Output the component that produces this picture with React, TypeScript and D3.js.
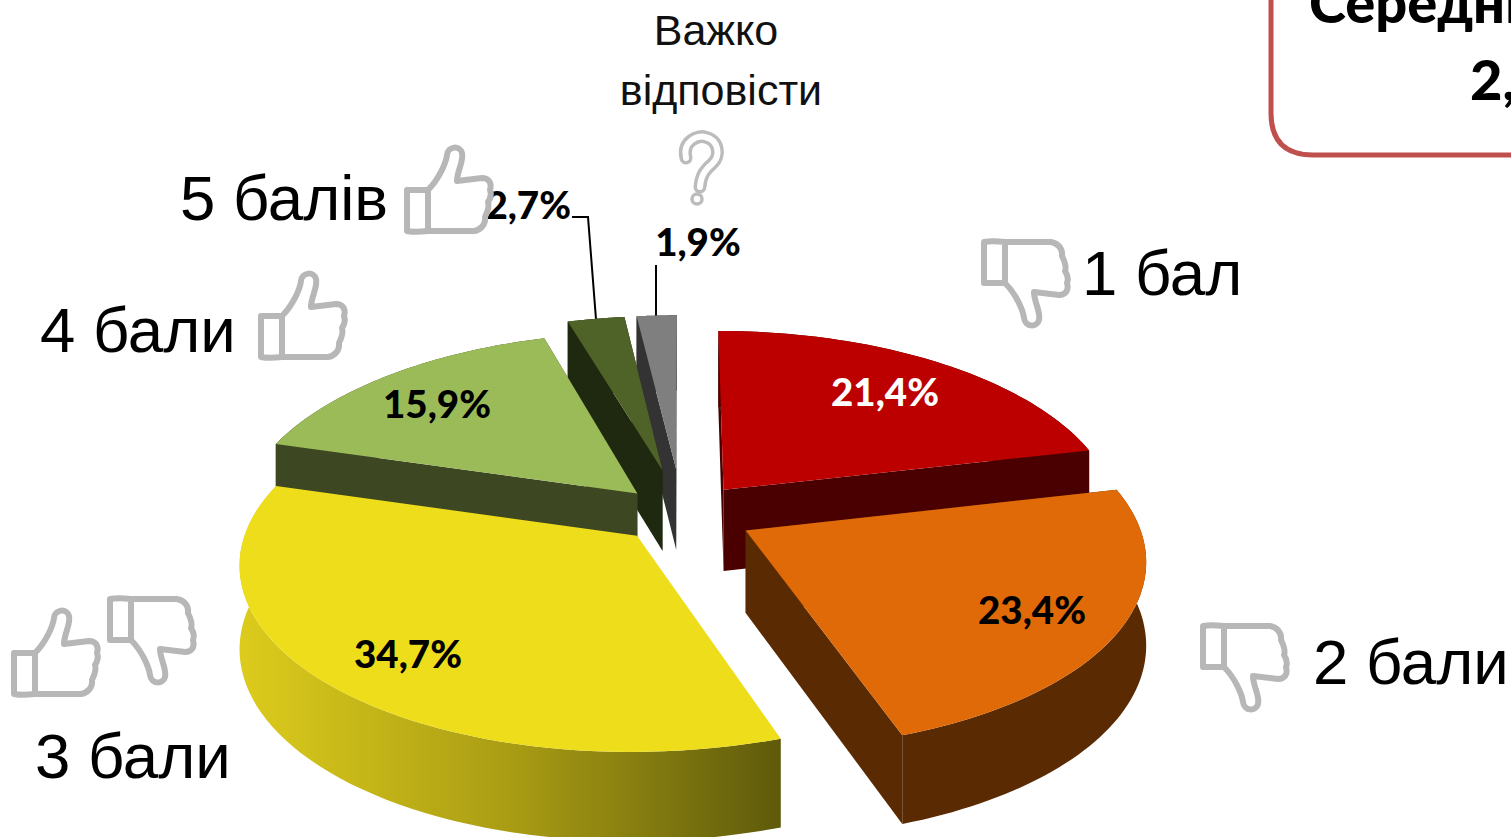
import React from "react";
import * as d3 from "d3";

const W = 1511, H = 837;
const categories = ["1 бал", "2 бали", "3 бали", "4 бали", "5 балів", "Важко відповісти"];
const values = [21.4, 23.4, 34.7, 15.9, 2.7, 1.9];
const percentLabels = ["21,4%", "23,4%", "34,7%", "15,9%", "2,7%", "1,9%"];

// layout + style
const explode = [0.17, 0.18, 0.16, 0.16, 0.25, 0.25];
const radXPos = [0.99, 0.975, 1, 1, 1, 1];
const radXNeg = [1, 1, 0.965, 1, 1, 1];
const radY = [1.02, 0.985, 0.97, 1.03, 1.02, 1.02];
const topColors = ["#bc0000", "#e16a08", "#eedd1a", "#9bbb59", "#4f6228", "#7f7f7f"];
const sideColors = ["#4a0000", "#5a2a03", "url(#rimY)", "#3d4722", "#1f2910", "#333333"];
const paintOrder = [5, 4, 3, 0, 1, 2];
const pctPos: [number, number, string, string][] = [
  [885, 405, "middle", "#ffffff"], [1032, 623, "middle", "#000"], [408, 667, "middle", "#000"],
  [437, 417, "middle", "#000"], [571, 218, "end", "#000"], [698, 255, "middle", "#000"],
];
const catPos: [number, number][] = [[1082, 295], [1313, 684], [35, 778], [40, 352], [180, 220]];

const Cx = 682, Cy = 514, Rx = 400, Ry = 185, k = 0.1435, depth = 82;
const sx = d3.scaleLinear().domain([-1, 1]).range([Cx - Rx, Cx + Rx]);
const sy = d3.scaleLinear().domain([-1, 1]).range([Cy - Ry, Cy + Ry]);
const project = (X: number, Y: number, z = 0): [number, number] => {
  const w = 1 - k * Y;
  return [sx(X / w), sy(Y / w) + (depth * z) / Math.sqrt(w)];
};
const line = d3.line<[number, number]>();
const arcs = d3.pie<number>().sort(null).startAngle(0).endAngle(2 * Math.PI)(values);

function sliceGeom(i: number) {
  const a = arcs.find((d) => d.index === i)!;
  const mid = (a.startAngle + a.endAngle) / 2;
  const ox = explode[i] * Math.sin(mid), oy = -explode[i] * Math.cos(mid);
  const rim = (t: number, z: number) => {
    const s = Math.sin(t);
    return project(ox + s * (s < 0 ? radXNeg[i] : radXPos[i]), oy - Math.cos(t) * radY[i], z);
  };
  const ts = d3.range(0, 61).map((j) => a.startAngle + ((a.endAngle - a.startAngle) * j) / 60);
  const pts = (z: number) => ts.map((t) => rim(t, z));
  const apex = (z: number) => project(ox, oy, z);
  const topP = pts(0), botP = pts(1);
  return {
    top: line([apex(0), ...topP])! + "Z",
    rim: line([...topP, ...botP.slice().reverse()])! + "Z",
    cut1: line([apex(0), topP[0], botP[0], apex(1)])! + "Z",
    cut2: line([apex(0), topP[60], botP[60], apex(1)])! + "Z",
    outerMid: rim(mid, 0),
  };
}

const THUMB = "M24,45 C35,34 42,18 43,10 C44,1 56,0 58,8 C60,16 53,26 53,36 L78,33 C85,33 88,38 86,45 C88,50 86,54 84,57 C86,62 83,68 81,72 C82,80 76,85 70,86 L24,86 Z";
const CUFF = "M3,45 L24,45 L24,86 C16,87 8,87 3,86 Z";
const Thumb = ({ x, y, down = false }: { x: number; y: number; down?: boolean }) => (
  <g transform={down ? `translate(${x},${y + 88}) scale(1,-1)` : `translate(${x},${y})`} fill="#fff" stroke="#b7b7b7" strokeWidth={6} strokeLinejoin="round">
    <path d={THUMB} />
    <path d={CUFF} />
  </g>
);

const thumbsUp: [number, number][] = [[404, 145], [258, 271], [11, 608]];
const thumbsDown: [number, number][] = [[981, 240], [1200, 624], [107, 597]];
const QMARK = "M686,158 C682,141 698,135 705,137 C719,140 721,156 712,164 C704,171 701,176 700,187";

export default function App() {
  const geoms = values.map((_, i) => sliceGeom(i));
  const dg = geoms[4].outerMid, gr = geoms[5].outerMid;
  return (
    <svg width={W} height={H} viewBox={`0 0 ${W} ${H}`} style={{ position: "fixed", left: 0, top: 0, background: "#fff" }}>
      <defs>
        <linearGradient id="rimY" gradientUnits="userSpaceOnUse" x1={243} x2={782} y1={0} y2={0}>
          <stop offset="0" stopColor="#dccb1c" />
          <stop offset="0.5" stopColor="#a99c14" />
          <stop offset="1" stopColor="#5e5a0b" />
        </linearGradient>
      </defs>

      {paintOrder.map((i) => (
        <g key={categories[i]}>
          <path d={geoms[i].rim} fill={sideColors[i]} />
          <path d={geoms[i].cut1} fill={i === 2 ? "none" : sideColors[i]} />
          <path d={geoms[i].cut2} fill={i === 2 ? "none" : sideColors[i]} />
          <path d={geoms[i].top} fill={topColors[i]} />
        </g>
      ))}

      <path d={`M572,217 L588,217 L${dg[0]},${dg[1]}`} fill="none" stroke="#000" strokeWidth={2} />
      <path d={`M656,265 L656,${gr[1]}`} fill="none" stroke="#000" strokeWidth={2} />

      {percentLabels.map((t, i) => (
        <text key={t} x={pctPos[i][0]} y={pctPos[i][1] + 0.5} textAnchor={pctPos[i][2] as any} fill={pctPos[i][3]}
          fontFamily="Lato, 'Noto Sans', sans-serif" fontWeight={900} fontSize={38.5}>{t}</text>
      ))}

      {catPos.map((p, i) => (
        <text key={i} x={p[0]} y={p[1]} fontFamily="'Liberation Sans', Arial, sans-serif" fontSize={63.5} fill="#000">{categories[i]}</text>
      ))}
      <g fontFamily="'Liberation Sans', Arial, sans-serif" fontSize={43} fill="#111" textAnchor="middle">
        <text x={716} y={45}>Важко</text>
        <text x={721} y={105}>відповісти</text>
      </g>

      {thumbsUp.map((p, i) => <Thumb key={i} x={p[0]} y={p[1]} />)}
      {thumbsDown.map((p, i) => <Thumb key={i} x={p[0]} y={p[1]} down />)}

      <g fill="none" strokeLinecap="round">
        <path d={QMARK} stroke="#bcbcbc" strokeWidth={13} />
        <circle cx={697} cy={199} r={5} fill="#fff" stroke="#bcbcbc" strokeWidth={3.5} />
        <path d={QMARK} stroke="#fff" strokeWidth={6} />
      </g>

      <path d="M1271,-20 L1271,113 Q1271,155 1313,155 L1530,155" fill="none" stroke="#c0504d" strokeWidth={5} />
      <g fontFamily="Lato, 'Noto Sans', sans-serif" fontWeight={900} fontSize={56} fill="#000">
        <text x={1309} y={23}>Середній бал</text>
        <text x={1470} y={100}>2,54</text>
      </g>
    </svg>
  );
}
